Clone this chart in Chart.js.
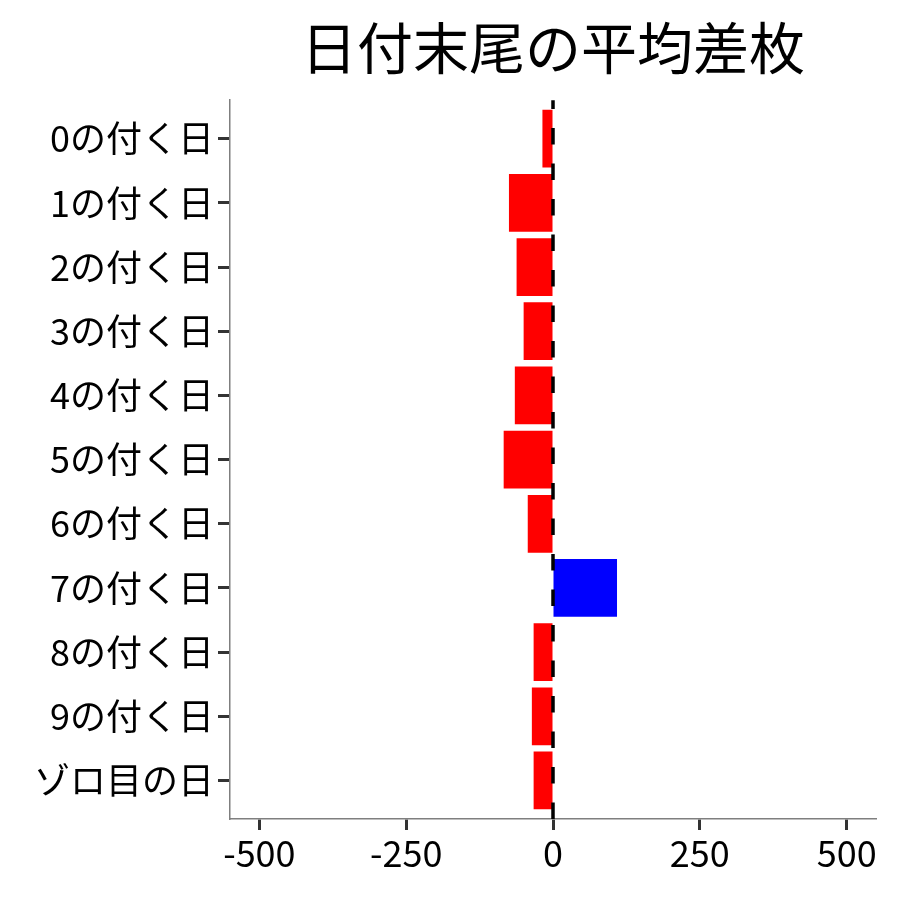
<!DOCTYPE html>
<html>
<head>
<meta charset="utf-8">
<script src="https://cdn.jsdelivr.net/npm/chart.js@4.4.1/dist/chart.umd.min.js"></script>
<style>
  body { margin: 0; background: #ffffff; }
  canvas { display: block; }
</style>
</head>
<body>
<canvas id="diffChart" width="900" height="900"></canvas>
<script>
const CATEGORIES = ['0の付く日', '1の付く日', '2の付く日', '3の付く日', '4の付く日',
                    '5の付く日', '6の付く日', '7の付く日', '8の付く日', '9の付く日', 'ゾロ目の日'];
const DIFFS = [-18, -75, -62, -50, -65, -84, -43, 109, -33, -36, -33];
const X_TICKS = [-500, -250, 0, 250, 500];

const FONT = '"Noto Sans CJK JP", "Noto Sans", sans-serif';
Chart.defaults.font.family = FONT;
Chart.defaults.color = '#000000';

// dashed line at x = 0, drawn over the bars, pattern starting from the bottom
const zeroLine = {
    id: 'zeroLine',
    afterDatasetsDraw(chart) {
        const ctx = chart.ctx;
        const x = chart.scales.x.getPixelForValue(0);
        const area = chart.chartArea;
        ctx.save();
        ctx.strokeStyle = '#000000';
        ctx.lineWidth = 3.5;
        ctx.setLineDash([16.5, 19]);
        ctx.beginPath();
        ctx.moveTo(x, area.bottom);
        ctx.lineTo(x, area.top);
        ctx.stroke();
        ctx.restore();
    }
};

const ctx = document.getElementById('diffChart').getContext('2d');
new Chart(ctx, {
    type: 'bar',
    data: {
        datasets: [{
            data: DIFFS.map((v, i) => ({ x: v, y: i })),
            backgroundColor: DIFFS.map(v => v < 0 ? '#ff0000' : '#0000ff'),
            borderWidth: 0,
            categoryPercentage: 0.9,
            barPercentage: 1.0
        }]
    },
    options: {
        indexAxis: 'y',
        responsive: false,
        animation: false,
        devicePixelRatio: 1,
        layout: { padding: { top: 0, right: 24, bottom: 0, left: 0 } },
        plugins: {
            legend: { display: false },
            tooltip: { enabled: false },
            title: {
                display: true,
                text: '日付末尾の平均差枚',
                fullSize: false,
                color: '#000000',
                font: { size: 56, weight: 'normal', family: FONT },
                padding: { top: 14, bottom: 19 }
            }
        },
        scales: {
            x: {
                type: 'linear',
                bounds: 'data',
                min: -550,
                max: 550,
                afterBuildTicks: s => { s.ticks = X_TICKS.map(v => ({ value: v })); },
                afterFit: s => { s.height = 81; },
                grid: {
                    display: true,
                    drawOnChartArea: false,
                    drawTicks: true,
                    tickLength: 11,
                    tickColor: '#333333',
                    tickWidth: 3
                },
                border: { display: true, color: '#7f7f7f', width: 1.5 },
                ticks: {
                    color: '#000000',
                    font: { size: 36, family: FONT },
                    padding: 2,
                    maxRotation: 0
                }
            },
            y: {
                type: 'linear',
                bounds: 'data',
                reverse: true,
                offset: false,
                min: -0.6,
                max: CATEGORIES.length - 0.4,
                afterBuildTicks: s => { s.ticks = CATEGORIES.map((c, i) => ({ value: i })); },
                afterFit: s => { s.width = 230; },
                grid: {
                    display: true,
                    offset: false,
                    drawOnChartArea: false,
                    drawTicks: true,
                    tickLength: 12,
                    tickColor: '#333333',
                    tickWidth: 3
                },
                border: { display: true, color: '#7f7f7f', width: 1.5 },
                ticks: {
                    color: '#000000',
                    font: { size: 36, family: FONT },
                    padding: 4,
                    autoSkip: false,
                    callback: v => CATEGORIES[v]
                }
            }
        }
    },
    plugins: [zeroLine]
});
</script>
</body>
</html>
